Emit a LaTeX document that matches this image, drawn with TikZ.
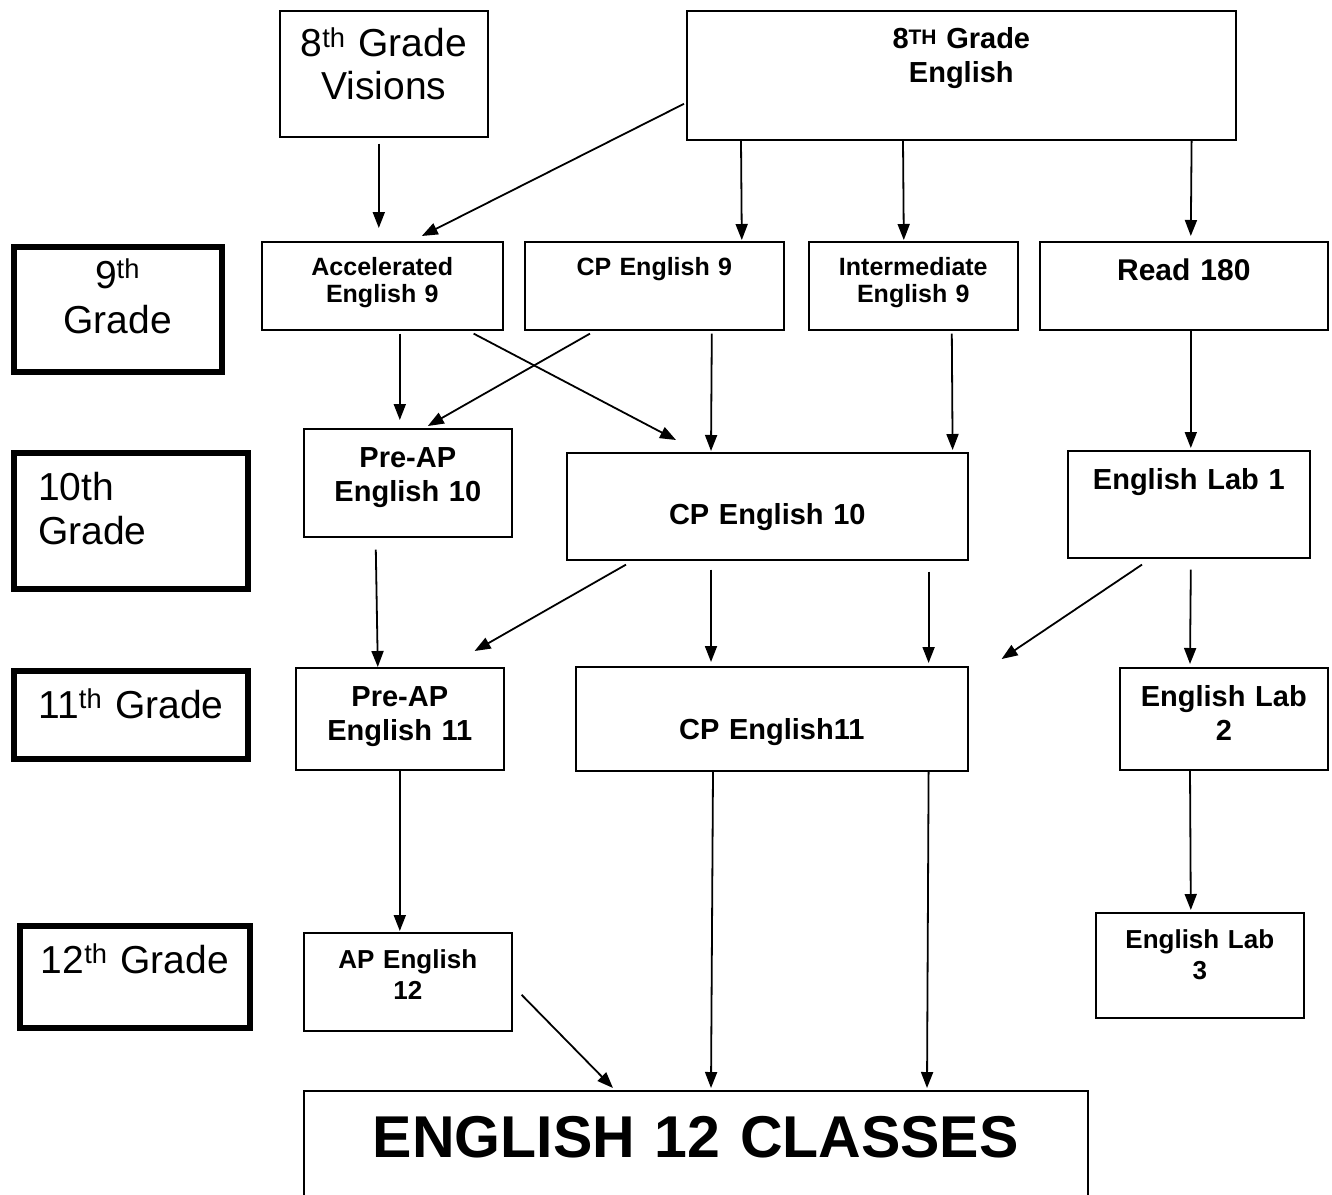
\documentclass[tikz,border=0pt]{standalone}
\usepackage{fontspec}
\setmainfont{Liberation Sans}
\usetikzlibrary{arrows.meta}

\tikzset{
  course/.style={draw, line width=1.6pt, inner sep=0pt, anchor=north west, align=center},
  grade/.style={draw, line width=6pt, inner sep=0pt, anchor=north west, align=center},
  link/.style={line width=1.8pt, -{Triangle[length=16pt,width=12pt]}},
  lift/.style={text height=0pt, text depth=#1},
  sink/.style={text depth=0pt, text height=#1}
}

\begin{document}
\begin{tikzpicture}[x=1pt,y=-1pt]
\clip (0,0) rectangle (1332,1194);

% grade column
\node[grade, minimum width=208pt, minimum height=125pt, text width=200pt, lift=42pt,
  font=\fontsize{39pt}{45pt}\selectfont] (g9) at (10.5,243.5) {9\textsuperscript{th}\\Grade};
\node[grade, minimum width=234pt, minimum height=135.5pt, text width=186pt, align=left, lift=41.5pt,
  font=\fontsize{39pt}{44pt}\selectfont] (g10) at (11,450) {10th\\Grade};
\node[grade, minimum width=234pt, minimum height=87.5pt, text width=226pt, sink=6.5pt,
  font=\fontsize{39pt}{44pt}\selectfont] (g11) at (11,668) {11\textsuperscript{th} Grade};
\node[grade, minimum width=230pt, minimum height=102pt, text width=222pt, lift=8pt,
  font=\fontsize{39pt}{44pt}\selectfont] (g12) at (17,923) {12\textsuperscript{th} Grade};

% 8th grade
\node[course, minimum width=208pt, minimum height=126pt, text width=200pt, lift=34pt,
  font=\fontsize{39pt}{43pt}\selectfont] (vis) at (279,10) {8\textsuperscript{th} Grade\\Visions};
\node[course, minimum width=549pt, minimum height=129pt, text width=540pt, lift=53pt,
  font=\fontsize{29pt}{34pt}\selectfont\bfseries] (eng8) at (686,10)
  {8\raisebox{4pt}{\fontsize{21pt}{21pt}\selectfont TH} Grade\\English};

% 9th grade
\node[course, minimum width=241pt, minimum height=88pt, text width=232pt, lift=20pt,
  font=\fontsize{25pt}{27pt}\selectfont\bfseries] (acc) at (261,241) {Accelerated\\English 9};
\node[course, minimum width=259pt, minimum height=88pt, text width=250pt, lift=20pt,
  font=\fontsize{25pt}{27pt}\selectfont\bfseries] (cp9) at (524,241) {CP English 9};
\node[course, minimum width=209pt, minimum height=88pt, text width=200pt, lift=20pt,
  font=\fontsize{25pt}{27pt}\selectfont\bfseries] (int9) at (808,241) {Intermediate\\English 9};
\node[course, minimum width=288pt, minimum height=88pt, text width=280pt, lift=10pt,
  font=\fontsize{30pt}{34pt}\selectfont\bfseries] (r180) at (1039,241) {Read 180};

% 10th grade
\node[course, minimum width=208pt, minimum height=108pt, text width=200pt, lift=30pt,
  font=\fontsize{29pt}{34pt}\selectfont\bfseries] (pap10) at (303,428) {Pre-AP\\English 10};
\node[course, minimum width=401pt, minimum height=107pt, text width=390pt, sink=37pt,
  font=\fontsize{29pt}{34pt}\selectfont\bfseries] (cp10) at (566,452) {CP English 10};
\node[course, minimum width=242pt, minimum height=107pt, text width=234pt, lift=29pt,
  font=\fontsize{29pt}{34pt}\selectfont\bfseries] (lab1) at (1067,450) {English Lab 1};

% 11th grade
\node[course, minimum width=208pt, minimum height=102pt, text width=200pt, lift=24pt,
  font=\fontsize{29pt}{34pt}\selectfont\bfseries] (pap11) at (295,667) {Pre-AP\\English 11};
\node[course, minimum width=392pt, minimum height=104pt, text width=384pt, sink=42pt,
  font=\fontsize{29pt}{34pt}\selectfont\bfseries] (cp11) at (575,666) {CP English11};
\node[course, minimum width=208pt, minimum height=102pt, text width=200pt, lift=24pt,
  font=\fontsize{29pt}{34pt}\selectfont\bfseries] (lab2) at (1119,667) {English Lab\\2};

% 12th grade
\node[course, minimum width=208pt, minimum height=98pt, text width=200pt, lift=26pt,
  font=\fontsize{26pt}{31pt}\selectfont\bfseries] (ap12) at (303,932) {AP English\\12};
\node[course, minimum width=208pt, minimum height=105pt, text width=200pt, lift=33pt,
  font=\fontsize{26pt}{31pt}\selectfont\bfseries] (lab3) at (1095,912) {English Lab\\3};
\node[course, minimum width=784pt, minimum height=125pt, text width=776pt, sink=9pt,
  font=\fontsize{59pt}{66pt}\selectfont\bfseries] (eng12) at (303,1090) {ENGLISH 12 CLASSES};

% arrows
\draw[link] ([xshift=-5pt,yshift=-6pt]vis.south) -- ([xshift=-3.5pt,yshift=13pt]acc.north);
\draw[link] ([xshift=-2pt,yshift=-28.5pt]eng8.west) -- ([xshift=39.5pt,yshift=5pt]acc.north);
\draw[link] ([xshift=55pt]eng8.south west) -- ([xshift=87.5pt,yshift=1pt]cp9.north);
\draw[link] ([xshift=217pt]eng8.south west) -- ([xshift=-9.5pt,yshift=1pt]int9.north);
\draw[link] ([xshift=-45pt]eng8.south east) -- ([xshift=7pt,yshift=5pt]r180.north);

\draw[link] ([xshift=17.5pt,yshift=-3pt]acc.south) -- ([xshift=-8pt,yshift=8pt]pap10.north);
\draw[link] ([xshift=66pt,yshift=-3pt]cp9.south west) -- ([xshift=20pt,yshift=2pt]pap10.north);
\draw[link] ([xshift=-30pt,yshift=-3pt]acc.south east) -- ([xshift=110pt,yshift=12pt]cp10.north west);
\draw[link] ([xshift=57.5pt,yshift=-3pt]cp9.south) -- ([xshift=145pt,yshift=1pt]cp10.north west);
\draw[link] ([xshift=38.5pt,yshift=-3pt]int9.south) -- ([xshift=-16pt,yshift=2pt]cp10.north east);
\draw[link] ([xshift=7pt]r180.south) -- ([xshift=2pt,yshift=2pt]lab1.north);

\draw[link] ([xshift=-32pt,yshift=-12pt]pap10.south) -- ([xshift=-22pt]pap11.north);
\draw[link] ([xshift=60pt,yshift=-4pt]cp10.south west) -- ([xshift=-30pt,yshift=16pt]pap11.north east);
\draw[link] ([xshift=145pt,yshift=-9pt]cp10.south west) -- ([xshift=136pt,yshift=4pt]cp11.north west);
\draw[link] ([xshift=-40pt,yshift=-11pt]cp10.south east) -- ([xshift=-40pt,yshift=3pt]cp11.north east);
\draw[link] ([xshift=75pt,yshift=-6pt]lab1.south west) -- ([xshift=33pt,yshift=7pt]cp11.north east);
\draw[link] ([xshift=2pt,yshift=-11pt]lab1.south) -- ([xshift=71pt,yshift=3pt]lab2.north west);

\draw[link] (pap11.south) -- ([xshift=-8pt,yshift=1pt]ap12.north);
\draw[link] ([xshift=71pt]lab2.south west) -- ([xshift=-9pt,yshift=2pt]lab3.north);
\draw[link] ([xshift=9pt,yshift=-13pt]ap12.east) -- ([xshift=310pt,yshift=2pt]eng12.north west);
\draw[link] ([xshift=138pt]cp11.south west) -- ([xshift=408pt,yshift=2pt]eng12.north west);
\draw[link] ([xshift=-40pt]cp11.south east) -- ([xshift=624pt,yshift=2pt]eng12.north west);
\end{tikzpicture}
\end{document}
